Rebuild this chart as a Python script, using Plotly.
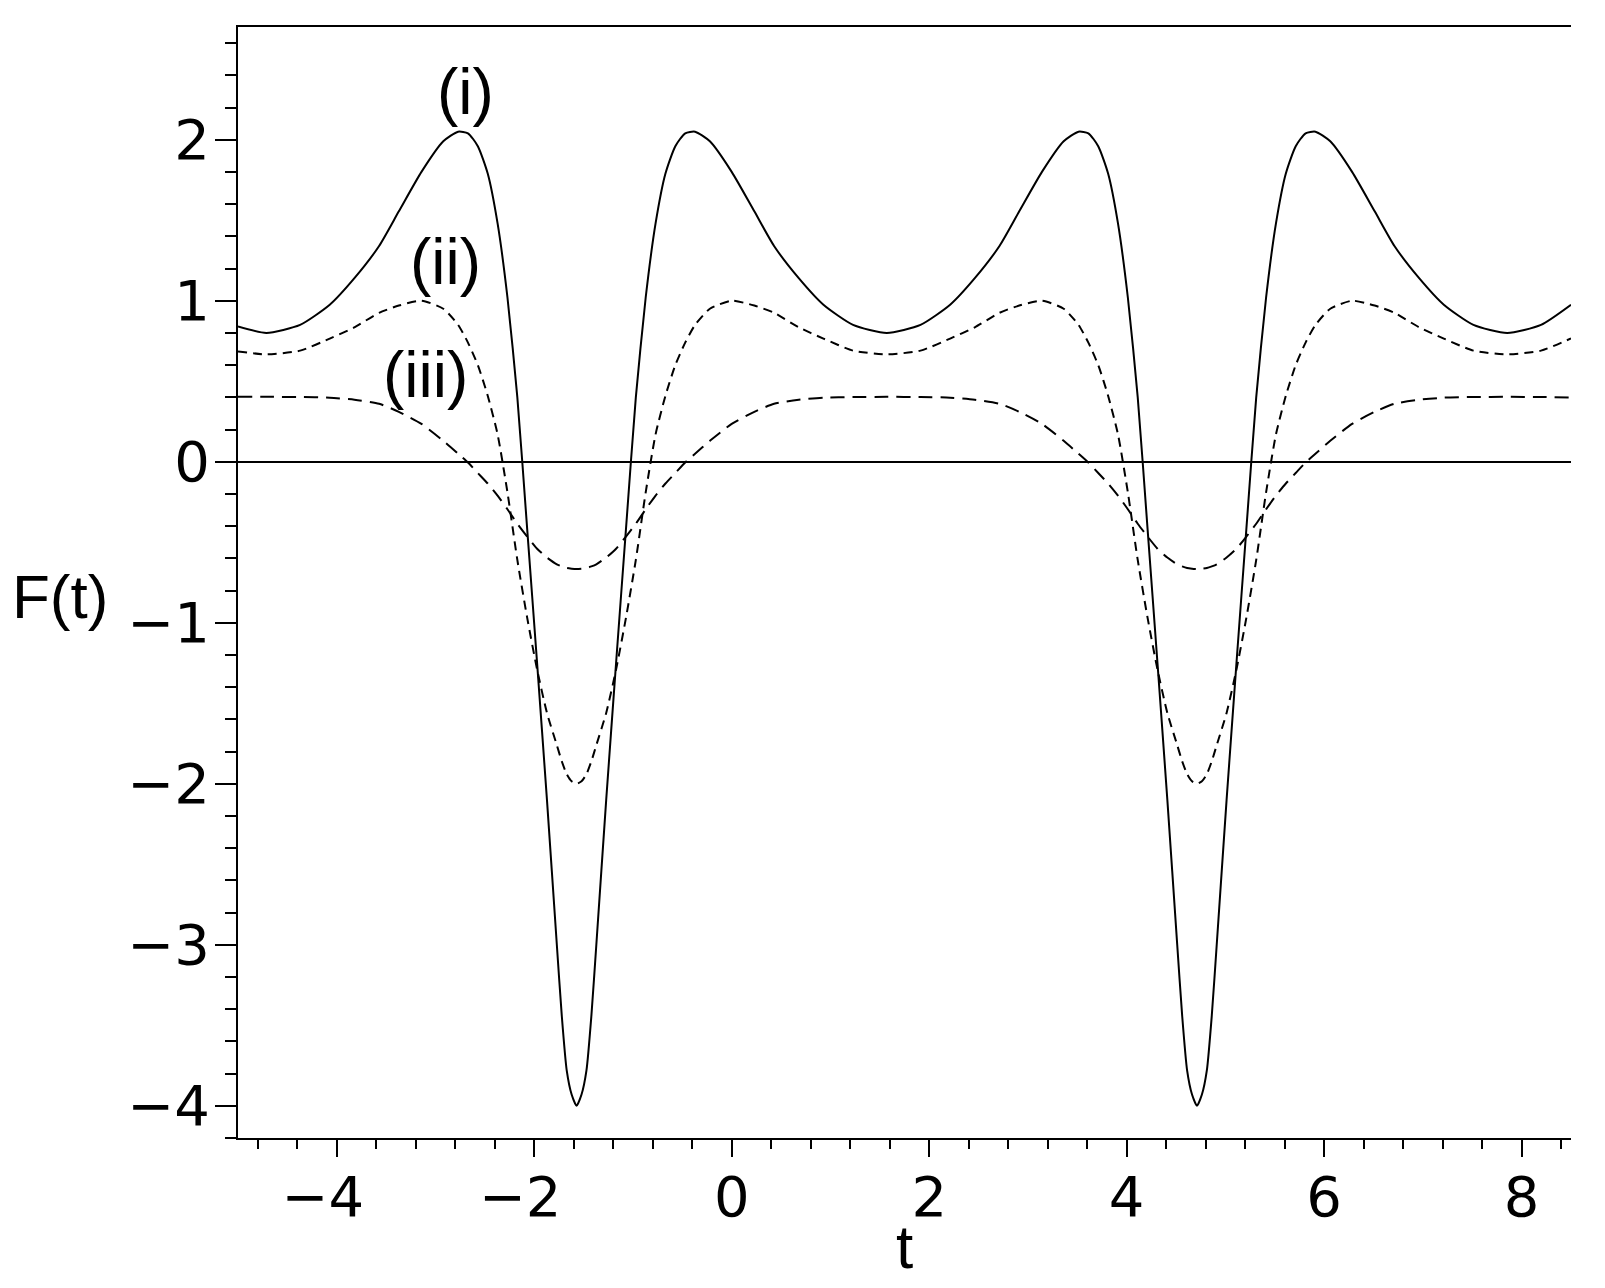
import plotly.graph_objects as go

# sample points along t
t = [-5.0, -4.712,
     -4.371, -4.071, -3.821, -3.571, -3.371, -3.142, -2.921, -2.771, -2.671, -2.571, -2.471,
     -2.371, -2.271, -2.171, -2.071, -1.971, -1.871, -1.771, -1.721, -1.671, -1.621, -1.571,
     -1.521, -1.471, -1.421, -1.371, -1.271, -1.171, -1.071, -0.971, -0.871, -0.771, -0.671,
     -0.571, -0.471, -0.371, -0.221, 0.0, 0.229, 0.429, 0.679, 0.929, 1.229, 1.571,
     1.912, 2.212, 2.462, 2.712, 2.912, 3.142, 3.362, 3.512, 3.612, 3.712, 3.812,
     3.912, 4.012, 4.112, 4.212, 4.312, 4.412, 4.512, 4.562, 4.612, 4.662, 4.712,
     4.762, 4.812, 4.862, 4.912, 5.012, 5.112, 5.212, 5.312, 5.412, 5.512, 5.612,
     5.712, 5.812, 5.912, 6.062, 6.283, 6.512, 6.712, 6.962, 7.212, 7.512, 7.854,
     8.196, 8.5]

f_i = [0.84, 0.80,
       0.85, 0.975, 1.14, 1.34, 1.555, 1.80, 1.99, 2.05, 2.04, 1.96, 1.79,
       1.48, 1.02, 0.40, -0.42, -1.25, -2.10, -3.00, -3.44, -3.78, -3.93, -4.00,
       -3.93, -3.78, -3.44, -3.00, -2.10, -1.25, -0.42, 0.40, 1.02, 1.48, 1.79,
       1.96, 2.04, 2.05, 1.99, 1.80, 1.555, 1.34, 1.14, 0.975, 0.85, 0.80,
       0.85, 0.975, 1.14, 1.34, 1.555, 1.80, 1.99, 2.05, 2.04, 1.96, 1.79,
       1.48, 1.02, 0.40, -0.42, -1.25, -2.10, -3.00, -3.44, -3.78, -3.93, -4.00,
       -3.93, -3.78, -3.44, -3.00, -2.10, -1.25, -0.42, 0.40, 1.02, 1.48, 1.79,
       1.96, 2.04, 2.05, 1.99, 1.80, 1.555, 1.34, 1.14, 0.975, 0.85, 0.80,
       0.85, 0.975]

f_ii = [0.685, 0.667,
        0.69, 0.765, 0.835, 0.925, 0.97, 1.00, 0.95, 0.85, 0.74, 0.60, 0.41,
        0.17, -0.19, -0.61, -0.97, -1.29, -1.56, -1.76, -1.86, -1.94, -1.985, -2.00,
        -1.985, -1.94, -1.86, -1.76, -1.56, -1.29, -0.97, -0.61, -0.19, 0.17, 0.41,
        0.60, 0.74, 0.85, 0.95, 1.00, 0.97, 0.925, 0.835, 0.765, 0.69, 0.667,
        0.69, 0.765, 0.835, 0.925, 0.97, 1.00, 0.95, 0.85, 0.74, 0.60, 0.41,
        0.17, -0.19, -0.61, -0.97, -1.29, -1.56, -1.76, -1.86, -1.94, -1.985, -2.00,
        -1.985, -1.94, -1.86, -1.76, -1.56, -1.29, -0.97, -0.61, -0.19, 0.17, 0.41,
        0.60, 0.74, 0.85, 0.95, 1.00, 0.97, 0.925, 0.835, 0.765, 0.69, 0.667,
        0.69, 0.766]

f_iii = [0.403, 0.403,
         0.402, 0.398, 0.385, 0.36, 0.31, 0.235, 0.13, 0.05, -0.005, -0.07, -0.135,
         -0.21, -0.295, -0.385, -0.465, -0.54, -0.595, -0.637, -0.65, -0.66, -0.664, -0.666,
         -0.664, -0.66, -0.65, -0.637, -0.595, -0.54, -0.465, -0.385, -0.295, -0.21, -0.135,
         -0.07, -0.005, 0.05, 0.13, 0.235, 0.31, 0.36, 0.385, 0.398, 0.402, 0.403,
         0.402, 0.398, 0.385, 0.36, 0.31, 0.235, 0.13, 0.05, -0.005, -0.07, -0.135,
         -0.21, -0.295, -0.385, -0.465, -0.54, -0.595, -0.637, -0.65, -0.66, -0.664, -0.666,
         -0.664, -0.66, -0.65, -0.637, -0.595, -0.54, -0.465, -0.385, -0.295, -0.21, -0.135,
         -0.07, -0.005, 0.05, 0.13, 0.235, 0.31, 0.36, 0.385, 0.398, 0.402, 0.403,
         0.402, 0.398]

x_ticks = [-4, -2, 0, 2, 4, 6, 8]
# trailing en space nudges the negative labels left, like the original
x_labels = ["\u22124\u2002", "\u22122\u2002", "0", "2", "4", "6", "8"]
y_ticks = [-4, -3, -2, -1, 0, 1, 2]
y_labels = ["\u22124", "\u22123", "\u22122", "\u22121", "0", "1", "2"]

curve_labels = ["(i)", "(ii)", "(iii)"]
label_pos = [(-2.70, 2.296), (-2.90, 1.24), (-3.105, 0.539)]

FONT = "Liberation Sans, Arial, sans-serif"
TICKFONT = "DejaVu Sans, sans-serif"

fig = go.Figure()

fig.add_trace(go.Scatter(x=t, y=f_i, mode="lines", name="(i)",
                         line=dict(color="black", width=2, shape="spline", smoothing=0.6)))
fig.add_trace(go.Scatter(x=t, y=f_ii, mode="lines", name="(ii)",
                         line=dict(color="black", width=2, dash="9px,6px", shape="spline", smoothing=0.6)))
fig.add_trace(go.Scatter(x=t, y=f_iii, mode="lines", name="(iii)",
                         line=dict(color="black", width=2, dash="14px,8px", shape="spline", smoothing=0.6)))

for txt, (lx, ly) in zip(curve_labels, label_pos):
    fig.add_annotation(x=lx, y=ly, xref="x", yref="y", text=txt, showarrow=False,
                       xanchor="center", yanchor="middle",
                       font=dict(family=FONT, size=64, color="black"))

# axis titles as plain annotations (Maple style)
fig.add_annotation(x=-0.1335, y=0.487, xref="paper", yref="paper", text="F(t)",
                   showarrow=False, xanchor="center", yanchor="middle",
                   font=dict(family=FONT, size=62, color="black"))
fig.add_annotation(x=0.5, y=-0.098, xref="paper", yref="paper", text="t",
                   showarrow=False, xanchor="center", yanchor="middle",
                   font=dict(family=FONT, size=62, color="black"))

fig.update_xaxes(range=[-5, 8.5], showgrid=False, zeroline=False,
                 showline=True, linecolor="black", linewidth=2, mirror=True,
                 ticks="outside", ticklen=17, tickwidth=1.5, tickcolor="black",
                 tickvals=x_ticks, ticktext=x_labels, ticklabelstandoff=-8,
                 tickfont=dict(family=TICKFONT, size=56, color="black"),
                 minor=dict(ticks="outside", ticklen=9, tickwidth=1.5, tickcolor="black",
                            dtick=0.4, tick0=0, showgrid=False))
fig.update_yaxes(range=[-4.2, 2.7], showgrid=False,
                 zeroline=True, zerolinecolor="black", zerolinewidth=1.5,
                 showline=True, linecolor="black", linewidth=2,
                 ticks="outside", ticklen=21, tickwidth=1.5, tickcolor="black",
                 tickvals=y_ticks, ticktext=y_labels, ticklabelstandoff=-6,
                 tickfont=dict(family=TICKFONT, size=56, color="black"),
                 minor=dict(ticks="outside", ticklen=11, tickwidth=1.5, tickcolor="black",
                            dtick=0.2, tick0=0, showgrid=False))

# page body adds 8px, so margins are trimmed to land the frame where the reference has it
fig.update_layout(width=1605, height=1288, showlegend=False,
                  margin=dict(l=230, r=42, t=19, b=158, autoexpand=False),
                  paper_bgcolor="white", plot_bgcolor="white")

fig.write_html("out.html")
